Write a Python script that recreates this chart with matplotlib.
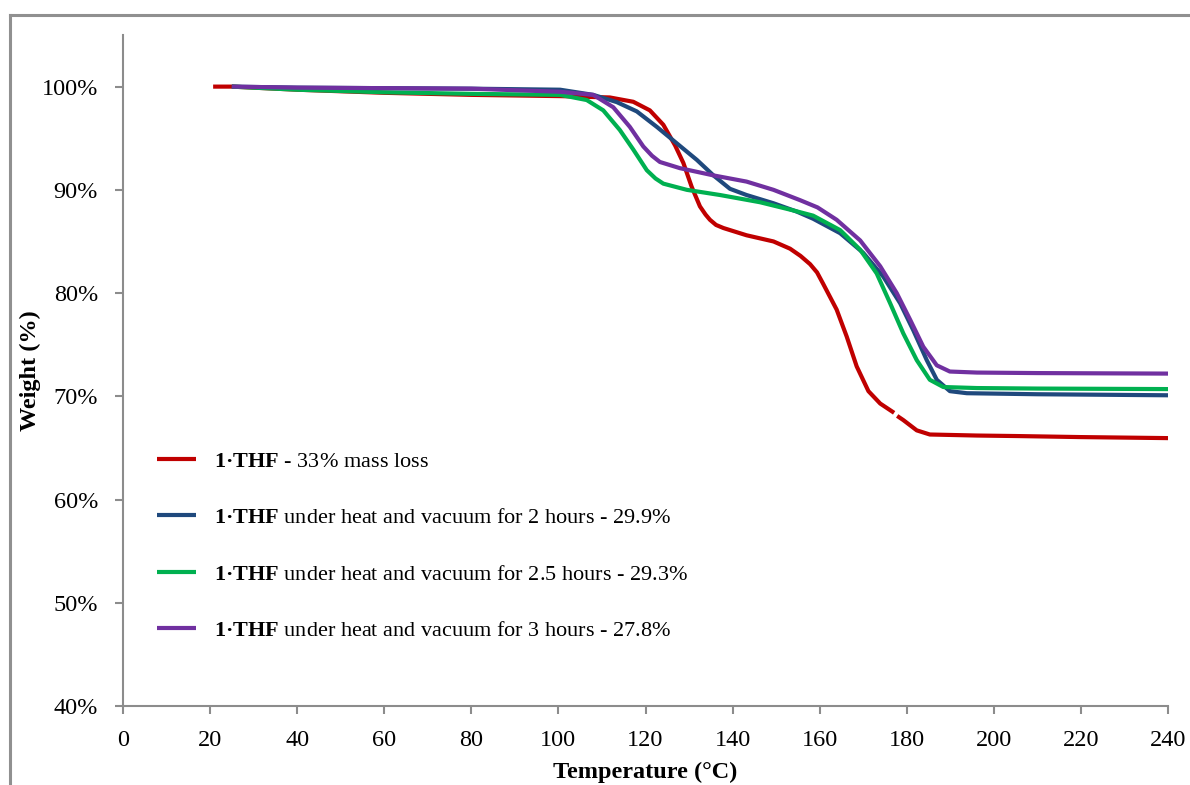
import numpy as np
import matplotlib.pyplot as plt
from matplotlib.lines import Line2D

plt.rcParams['font.family'] = ['Liberation Serif', 'DejaVu Serif']
plt.rcParams['mathtext.fontset'] = 'custom'
plt.rcParams['mathtext.rm'] = 'Liberation Serif'
plt.rcParams['mathtext.bf'] = 'Liberation Serif:bold'

# TGA traces (temperature in C, weight in %)
red_t = [20.7, 25, 40, 60, 80, 100.4, 111.8, 117.2, 121.0, 124.1, 126.8, 128.7, 130.6, 132.5,
         133.8, 134.8, 136.2, 137.9, 143.2, 149.4, 153.2, 155.6, 157.8, 159.4, 160.8, 163.9,
         166.2, 168.5, 171.2, 173.9, 177.1, np.nan, 177.8, 179.2, 182.3, 185.3, 196.1, 205.3,
         220, 240]
red_w = [100.0, 100.0, 99.7, 99.4, 99.2, 99.08, 98.95, 98.53, 97.7, 96.3, 94.3, 92.6, 90.3, 88.4,
         87.6, 87.1, 86.6, 86.3, 85.6, 85.0, 84.3, 83.6, 82.8, 82.0, 80.9, 78.4,
         75.8, 72.9, 70.5, 69.3, 68.4, np.nan, 68.1, 67.7, 66.7, 66.3, 66.2, 66.15,
         66.05, 65.95]

blue_t = [25, 40, 60, 80, 100.4, 108.0, 113.4, 118.0, 122.6, 127.2, 131.8, 135.6, 139.4, 143.2,
          149.4, 154.7, 158.5, 164.7, 170.0, 174.6, 178.5, 181.5, 184.6, 186.9, 189.9, 193.8,
          210, 240]
blue_w = [100.0, 99.9, 99.85, 99.8, 99.7, 99.2, 98.5, 97.6, 96.1, 94.5, 92.9, 91.4, 90.1, 89.5,
          88.7, 87.9, 87.2, 85.8, 83.9, 81.6, 79.0, 76.4, 73.5, 71.6, 70.5, 70.3,
          70.2, 70.1]

green_t = [25, 40, 60, 80, 100.4, 106.5, 110.3, 114.1, 117.2, 120.3, 122.3, 124.1, 129.5, 137.1,
           146.3, 154.0, 158.5, 164.7, 169.3, 173.1, 176.2, 179.2, 182.3, 185.3, 188.4, 196.1,
           210, 240]
green_w = [100.0, 99.7, 99.45, 99.3, 99.2, 98.7, 97.7, 95.8, 93.9, 91.9, 91.1, 90.6, 90.0, 89.5,
           88.8, 88.0, 87.5, 86.1, 84.2, 81.9, 79.0, 76.1, 73.5, 71.6, 70.9, 70.8,
           70.75, 70.7]

purple_t = [25, 40, 60, 80, 100.4, 108.0, 112.6, 116.4, 119.5, 121.5, 123.3, 127.9, 135.6, 143.2,
            149.4, 155.5, 159.5, 163.9, 169.3, 173.9, 177.7, 180.8, 183.8, 186.9, 189.9, 196.1,
            210, 240]
purple_w = [100.0, 99.9, 99.85, 99.8, 99.5, 99.2, 98.0, 96.1, 94.2, 93.3, 92.7, 92.1, 91.4, 90.8,
            90.0, 89.0, 88.3, 87.1, 85.1, 82.6, 80.0, 77.4, 74.8, 73.0, 72.4, 72.3,
            72.25, 72.2]

labels = [r'$\mathbf{1·THF}$ - 33% mass loss',
          r'$\mathbf{1·THF}$ under heat and vacuum for 2 hours - 29.9%',
          r'$\mathbf{1·THF}$ under heat and vacuum for 2.5 hours - 29.3%',
          r'$\mathbf{1·THF}$ under heat and vacuum for 3 hours - 27.8%']
colors = ['#c00000', '#1f497d', '#00b050', '#7030a0']

fig = plt.figure(figsize=(11.9, 7.85), dpi=100)
ax = fig.add_axes([123 / 1190, 79 / 785, 1045 / 1190, 671 / 785])

# figure frame (top and left edges visible)
fig.add_artist(Line2D([10 / 1190, 1.0], [1 - 15 / 785] * 2, color='#909090', lw=2.2))
fig.add_artist(Line2D([10 / 1190] * 2, [1 - 15 / 785, 0.002], color='#909090', lw=2.2))

series = [(red_t, red_w), (blue_t, blue_w), (green_t, green_w), (purple_t, purple_w)]
for (t, w), c, lab in zip(series, colors, labels):
    w = np.array(w) / 100
    ax.plot(t, w, color=c, lw=3, label=lab, solid_capstyle='butt', solid_joinstyle='round')

ax.set_xlim(0, 240)
ax.set_ylim(0.40, 1.05)
ax.set_xticks(np.arange(0, 241, 20))
ax.set_yticks(np.arange(0.4, 1.01, 0.1))
ax.set_yticklabels(['%d%%' % v for v in range(40, 101, 10)])

for s in ['top', 'right']:
    ax.spines[s].set_visible(False)
for s in ['left', 'bottom']:
    ax.spines[s].set_color('#8c8c8c')
    ax.spines[s].set_linewidth(1.5)
ax.tick_params(axis='both', colors='#8c8c8c', width=1.5, length=6, labelsize=17.5,
               labelcolor='black', direction='out')
ax.tick_params(axis='x', pad=11)
ax.tick_params(axis='y', pad=12)

ax.set_xlabel('Temperature (°C)', fontsize=17.5, fontweight='bold', labelpad=8)
ax.set_ylabel('Weight (%)', fontsize=17.5, fontweight='bold')
ax.yaxis.set_label_coords(-0.078, 0.5)

leg = fig.legend(loc='upper left', bbox_to_anchor=(157 / 1190, 1 - 451 / 785), frameon=False,
                 fontsize=16, handlelength=1.75, handletextpad=0.8, labelspacing=1.62,
                 borderpad=0, borderaxespad=0)
for h in leg.get_lines():
    h.set_linewidth(3)

fig.savefig('out.png', dpi=100)
